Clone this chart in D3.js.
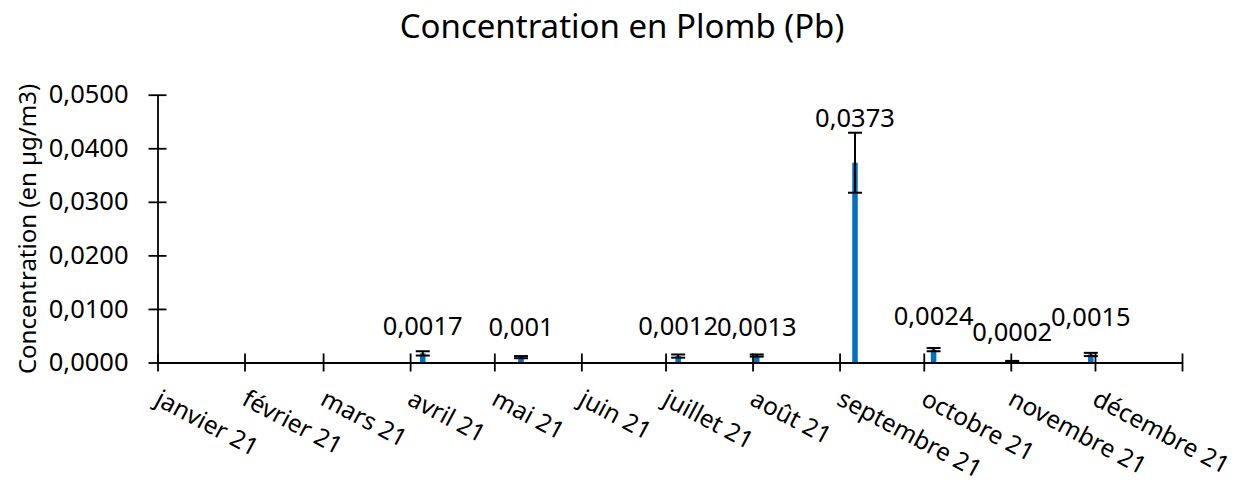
<!DOCTYPE html>
<html>
<head>
<meta charset="utf-8">
<script src="https://cdn.jsdelivr.net/npm/d3@7"></script>
<style>
  body { margin: 0; background: #fff; }
  svg { display: block; font-family: "Noto Sans", sans-serif; }
</style>
</head>
<body>
<svg id="chart" width="1236" height="486"></svg>
<script>
// month labels shown under the axis
const months = ["janvier 21", "février 21", "mars 21", "avril 21", "mai 21", "juin 21",
    "juillet 21", "août 21", "septembre 21", "octobre 21", "novembre 21", "décembre 21"];

// sampling dates and measured lead concentrations (µg/m3)
const sampleDates = ["2021-04-05", "2021-05-10", "2021-07-05", "2021-08-02",
    "2021-09-06", "2021-10-04", "2021-11-01", "2021-11-29"];
const values = [0.0017, 0.001, 0.0012, 0.0013, 0.0373, 0.0024, 0.0002, 0.0015];
const errors = [0.0004, 0.0002, 0.0003, 0.0002, 0.0056, 0.0003, 0.0001, 0.0003];

const yTicks = [0, 0.01, 0.02, 0.03, 0.04, 0.05];

// data labels were lifted by hand in the original (px above the bar top)
const labelLift = [18, 21, 21, 20, 36, 25, 20, 28];

const svg = d3.select("#chart");

const x = d3.scaleUtc()
    .domain([Date.UTC(2021, 0, 1), Date.UTC(2022, 0, 1)])
    .range([157.5, 1182]);
const y = d3.scaleLinear().domain([0, 0.05]).range([362.5, 94.7]);

const parse = d3.utcParse("%Y-%m-%d");
const halfDay = 12 * 3600 * 1000;
const data = sampleDates.map((d, i) => ({
    date: new Date(parse(d).getTime() + halfDay),
    value: values[i],
    err: errors[i],
    label: String(values[i]).replace(".", ","),
    lift: labelLift[i]
}));

const fmt = d => d3.format(".4f")(d).replace(".", ",");

// title
svg.append("text")
    .attr("x", 622)
    .attr("y", 37.5)
    .attr("text-anchor", "middle")
    .attr("font-size", 33)
    .attr("fill", "#000")
    .text("Concentration en Plomb (Pb)");

// y axis title
svg.append("text")
    .attr("transform", "translate(36,229) rotate(-90)")
    .attr("text-anchor", "middle")
    .attr("font-size", 24)
    .attr("fill", "#000")
    .text("Concentration (en µg/m3)");

// bars
svg.selectAll(".bar")
    .data(data)
    .enter()
    .append("rect")
    .attr("class", "bar")
    .attr("x", d => x(d.date) - 2.75)
    .attr("width", 5.5)
    .attr("y", d => y(d.value))
    .attr("height", d => y(0) - y(d.value))
    .attr("fill", "#0070C0");

// y axis
const yAxis = svg.append("g")
    .attr("transform", `translate(${x.range()[0]},0)`)
    .call(d3.axisLeft(y).tickValues(yTicks).tickFormat(fmt).tickSize(9).tickSizeOuter(0).tickPadding(20));
yAxis.selectAll(".tick line").attr("x1", 9).attr("stroke-width", 1.8);
yAxis.select(".domain").attr("stroke-width", 1.8);
yAxis.selectAll("text").attr("font-size", 25.5).attr("fill", "#000").attr("font-family", "Noto Sans");

// x axis with month ticks
const monthStarts = d3.utcMonth.range(Date.UTC(2021, 0, 1), Date.UTC(2022, 0, 2));
const xAxis = svg.append("g")
    .attr("transform", `translate(0,${y(0)})`)
    .call(d3.axisBottom(x).tickValues(monthStarts).tickFormat("").tickSize(9).tickSizeOuter(0));
xAxis.selectAll(".tick line").attr("y1", -9).attr("stroke-width", 1.8);
xAxis.select(".domain").attr("stroke-width", 1.8);

// rotated month labels
svg.selectAll(".month")
    .data(months)
    .enter()
    .append("text")
    .attr("class", "month")
    .attr("transform", (d, i) => `translate(${x(monthStarts[i]) - 4},404) rotate(28)`)
    .attr("font-size", 24.5)
    .attr("fill", "#000")
    .text(d => d);

// error bars
const eb = svg.selectAll(".err")
    .data(data)
    .enter()
    .append("g")
    .attr("class", "err")
    .attr("stroke", "#000")
    .attr("stroke-width", 2);
eb.append("line")
    .attr("x1", d => x(d.date)).attr("x2", d => x(d.date))
    .attr("y1", d => y(d.value - d.err)).attr("y2", d => y(d.value + d.err));
eb.append("line")
    .attr("x1", d => x(d.date) - 7).attr("x2", d => x(d.date) + 7)
    .attr("y1", d => y(d.value + d.err)).attr("y2", d => y(d.value + d.err));
eb.append("line")
    .attr("x1", d => x(d.date) - 7).attr("x2", d => x(d.date) + 7)
    .attr("y1", d => y(d.value - d.err)).attr("y2", d => y(d.value - d.err));

// data labels, centred on their bar
svg.selectAll(".val")
    .data(data)
    .enter()
    .append("text")
    .attr("class", "val")
    .attr("x", d => x(d.date))
    .attr("y", d => y(d.value) - d.lift)
    .attr("text-anchor", "middle")
    .attr("font-size", 25.5)
    .attr("fill", "#000")
    .text(d => d.label);
</script>
</body>
</html>
